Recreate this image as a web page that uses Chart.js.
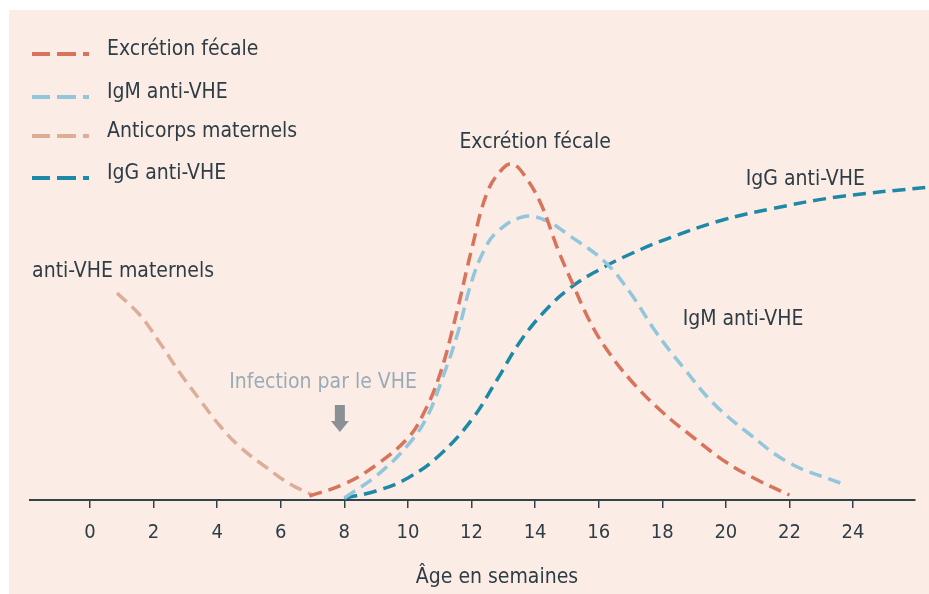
<!DOCTYPE html>
<html lang="fr">
<head>
<meta charset="utf-8">
<title>Hépatite E - cinétique</title>
<script src="https://cdn.jsdelivr.net/npm/chart.js@4"></script>
<style>
  html, body { margin: 0; padding: 0; background: #fff; }
  canvas { display: block; }
</style>
</head>
<body>
<canvas id="chart" width="929" height="594"></canvas>
<script>
// x ticks (weeks)
const tickWeeks = [0, 2, 4, 6, 8, 10, 12, 14, 16, 18, 20, 22, 24];

// curves (x = weeks, y = arbitrary level)
const fecalWeeks = [6.9, 8.0, 9.0, 10.0, 10.5, 11.0, 11.5, 12.0, 12.5, 13.0, 13.3, 13.7, 14.2, 14.7, 15.2, 15.7, 16.2, 17.0, 18.0, 19.0, 20.0, 21.0, 22.0];
const fecalValues = [4, 16, 35, 62, 87, 125, 183, 250, 308, 332, 336, 323, 295, 252, 215, 180, 153, 120, 88, 62, 38, 20, 5];

const igmWeeks = [8.0, 9.0, 10.0, 10.6, 11.1, 11.55, 12.0, 12.4, 12.8, 13.6, 14.3, 15.1, 16.2, 17.0, 17.8, 18.65, 19.6, 20.7, 22.0, 23.6];
const igmValues = [2, 24, 55, 83, 123, 165, 218, 250, 268, 283, 280, 264, 238, 207, 168, 133, 97, 67, 37, 17];

const maternalWeeks = [0.85, 1.57, 2.2, 2.83, 3.46, 4.09, 4.72, 5.57, 6.29, 7.0];
const maternalValues = [207, 185, 157, 127, 100, 74, 53, 32, 16, 5];

const iggWeeks = [8.0, 9.0, 10.0, 11.0, 12.0, 12.8, 13.5, 14.25, 15.1, 16.0, 17.0, 18.3, 19.9, 21.4, 23.5, 26.4];
const iggValues = [2, 9, 22, 45, 80, 120, 157, 187, 212, 230, 246, 263, 280, 291, 303, 313];

const seriesLabels = ['Excrétion fécale', 'IgM anti-VHE', 'Anticorps maternels', 'IgG anti-VHE'];
const seriesColors = ['#d8735c', '#92c6dd', '#dcae98', '#1e89a6'];

const FONT = '"DejaVu Sans Condensed", "Liberation Sans Narrow", sans-serif';
const TEXT = '#2e3d45';

const toPoints = (xs, ys) => xs.map((x, i) => ({ x: x, y: ys[i] }));

function line(idx, xs, ys) {
  return {
    label: seriesLabels[idx],
    data: toPoints(xs, ys),
    borderColor: seriesColors[idx],
    borderWidth: 3.5,
    borderDash: [13, 7],
    pointRadius: 0,
    fill: false,
    tension: 0.4,
    clip: false
  };
}

// text placed on the plot, in data units
const notes = [
  { text: 'Excrétion fécale', x: 14.0, y: 357, color: TEXT },
  { text: 'IgG anti-VHE', x: 22.5, y: 320, color: TEXT },
  { text: 'IgM anti-VHE', x: 20.54, y: 180, color: TEXT },
  { text: 'anti-VHE maternels', x: 1.04, y: 228, color: TEXT },
  { text: 'Infection par le VHE', x: 7.33, y: 117, color: '#9aabb7' }
];

const overlay = {
  id: 'overlay',
  beforeDraw(chart) {
    const ctx = chart.ctx;
    ctx.save();
    ctx.fillStyle = '#ffffff';
    ctx.fillRect(0, 0, chart.width, chart.height);
    ctx.fillStyle = '#fbece6';
    ctx.fillRect(9, 10, chart.width - 9, chart.height - 10);
    ctx.restore();
  },
  afterDraw(chart) {
    const ctx = chart.ctx;
    const xs = chart.scales.x, ys = chart.scales.y;
    ctx.save();

    // legend
    const rows = [50, 93, 132, 174];
    chart.data.datasets.forEach((ds, i) => {
      const y = rows[i];
      ctx.strokeStyle = ds.borderColor;
      ctx.lineWidth = 4;
      ctx.setLineDash([18, 7, 19, 7, 6]);
      ctx.beginPath();
      ctx.moveTo(32, y + 4);
      ctx.lineTo(89, y + 4);
      ctx.stroke();
      ctx.setLineDash([]);
      ctx.fillStyle = TEXT;
      ctx.font = '21px ' + FONT;
      ctx.textAlign = 'left';
      ctx.textBaseline = 'middle';
      ctx.fillText(ds.label, 107, y);
    });

    // curve labels
    ctx.textAlign = 'center';
    ctx.textBaseline = 'middle';
    notes.forEach(n => {
      ctx.fillStyle = n.color;
      ctx.font = '21px ' + FONT;
      ctx.fillText(n.text, xs.getPixelForValue(n.x), ys.getPixelForValue(n.y));
    });

    // infection arrow
    const ax = xs.getPixelForValue(7.86);
    const top = ys.getPixelForValue(95);
    const tip = ys.getPixelForValue(68);
    ctx.fillStyle = '#8b9094';
    ctx.beginPath();
    ctx.moveTo(ax - 5, top);
    ctx.lineTo(ax + 5, top);
    ctx.lineTo(ax + 5, tip - 11);
    ctx.lineTo(ax + 9, tip - 11);
    ctx.lineTo(ax, tip);
    ctx.lineTo(ax - 9, tip - 11);
    ctx.lineTo(ax - 5, tip - 11);
    ctx.closePath();
    ctx.fill();

    // axis title
    ctx.fillStyle = TEXT;
    ctx.font = '21px ' + FONT;
    ctx.fillText('Âge en semaines', 497, 578);
    ctx.restore();
  }
};

new Chart(document.getElementById('chart'), {
  type: 'line',
  data: {
    datasets: [
      line(0, fecalWeeks, fecalValues),
      line(1, igmWeeks, igmValues),
      line(2, maternalWeeks, maternalValues),
      line(3, iggWeeks, iggValues)
    ]
  },
  options: {
    responsive: false,
    animation: false,
    layout: { padding: { left: 30, right: 14, top: 10, bottom: 0 } },
    plugins: {
      legend: { display: false },
      tooltip: { enabled: false }
    },
    scales: {
      x: {
        type: 'linear',
        min: -1.887,
        max: 25.95,
        afterBuildTicks: s => { s.ticks = tickWeeks.map(v => ({ value: v })); },
        afterFit: s => { s.height = 94; },
        grid: { drawOnChartArea: false, drawTicks: true, tickLength: 8, color: '#34434a', lineWidth: 1.5 },
        border: { display: true, color: '#34434a', width: 2 },
        ticks: { color: TEXT, font: { family: FONT, size: 20 }, padding: 13, autoSkip: false, maxRotation: 0 }
      },
      y: {
        display: false,
        min: 0,
        max: 490
      }
    }
  },
  plugins: [overlay]
});
</script>
</body>
</html>
